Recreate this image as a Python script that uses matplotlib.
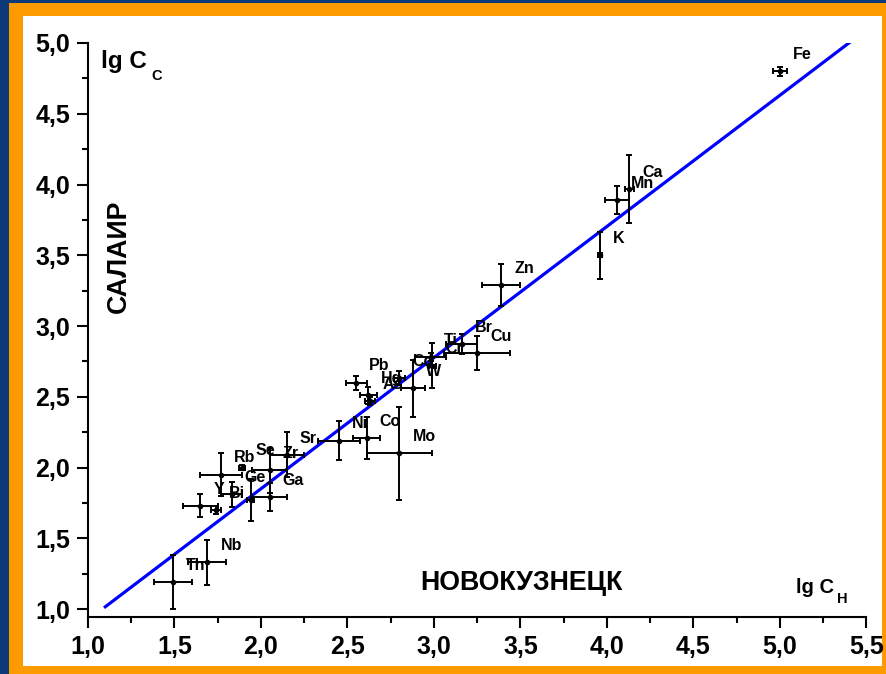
import matplotlib
matplotlib.use("Agg")
import matplotlib.pyplot as plt
from matplotlib.patches import Rectangle
from matplotlib.ticker import MultipleLocator, FuncFormatter

plt.rcParams["font.family"] = ["Liberation Sans", "DejaVu Sans"]
plt.rcParams["font.weight"] = "bold"

# lg concentration: Novokuznetsk (x) vs Salair (y), with measurement spread
elements = ["Fe", "Ca", "Mn", "K", "Zn", "Cu", "Br", "Ti", "Cr", "Cd",
            "W", "Pb", "Hg", "As", "Ni", "Co", "Mo", "Sr", "Se", "Zr",
            "Rb", "Ge", "Ga", "Y", "Bi", "Nb", "Th", ""]
lg_cn = [5.00, 4.13, 4.06, 3.96, 3.39, 3.25, 3.16, 2.98, 2.99, 2.80,
         2.88, 2.55, 2.62, 2.63, 2.45, 2.61, 2.80, 2.15, 1.89, 2.05,
         1.77, 1.83, 2.05, 1.65, 1.74, 1.69, 1.49, 1.94]
lg_cs = [4.80, 3.97, 3.89, 3.50, 3.29, 2.81, 2.87, 2.78, 2.72, 2.63,
         2.56, 2.60, 2.51, 2.47, 2.19, 2.21, 2.10, 2.09, 2.00, 1.98,
         1.95, 1.81, 1.79, 1.73, 1.70, 1.33, 1.19, 1.77]
err_cn = [0.04, 0.025, 0.07, 0.012, 0.11, 0.19, 0.09, 0.09, 0.02, 0.03,
          0.07, 0.06, 0.05, 0.03, 0.12, 0.08, 0.19, 0.10, 0.02, 0.10,
          0.12, 0.06, 0.10, 0.10, 0.03, 0.11, 0.11, 0.02]
err_cs = [0.03, 0.24, 0.10, 0.165, 0.15, 0.12, 0.07, 0.03, 0.16, 0.05,
          0.20, 0.05, 0.06, 0.03, 0.14, 0.15, 0.33, 0.16, 0.02, 0.16,
          0.15, 0.09, 0.10, 0.08, 0.03, 0.16, 0.19, 0.15]

# linear fit drawn across the data
fit_slope = 0.927
fit_icpt = -0.004
fit_x = [1.10, 5.40]

W, H = 887, 674
fig = plt.figure(figsize=(W / 100, H / 100), dpi=100)
fig.patch.set_facecolor("#0c3a78")
fig.add_artist(Rectangle((9 / W, 0), 1, 671 / H, transform=fig.transFigure,
                         facecolor="#fd9a00", edgecolor="none", zorder=-3))
fig.add_artist(Rectangle((23 / W, 8 / H), 859 / W, 650 / H,
                         transform=fig.transFigure, facecolor="white",
                         edgecolor="none", zorder=-2))

ax = fig.add_axes([88 / W, 57 / H, 778.5 / W, 574 / H])
ax.set_facecolor("white")
ax.set_xlim(1.0, 5.5)
ax.set_ylim(0.9435, 5.0)

ax.plot(fit_x, [fit_slope * v + fit_icpt for v in fit_x], color="#0000ff",
        lw=2.3, zorder=3)
ax.errorbar(lg_cn, lg_cs, xerr=err_cn, yerr=err_cs, fmt="o", ms=3,
            color="black", ecolor="black", elinewidth=1.4, capsize=2.3,
            capthick=1.4, zorder=4)

for name, xv, yv in zip(elements, lg_cn, lg_cs):
    if name:
        ax.annotate(name, (xv, yv), xytext=(9.4, 12), textcoords="offset points",
                    fontsize=11.5, fontweight="bold", ha="left", va="center",
                    zorder=5)

for side in ("top", "right"):
    ax.spines[side].set_visible(False)
for side in ("left", "bottom"):
    ax.spines[side].set_linewidth(1.5)

comma = FuncFormatter(lambda v, pos: f"{v:.1f}".replace(".", ","))
ax.xaxis.set_major_locator(MultipleLocator(0.5))
ax.xaxis.set_minor_locator(MultipleLocator(0.25))
ax.yaxis.set_major_locator(MultipleLocator(0.5))
ax.yaxis.set_minor_locator(MultipleLocator(0.25))
ax.xaxis.set_major_formatter(comma)
ax.yaxis.set_major_formatter(comma)
ax.tick_params(which="major", length=8, width=1.5, labelsize=18, pad=5)
ax.tick_params(which="minor", length=4, width=1.5)
for lab in ax.get_xticklabels() + ax.get_yticklabels():
    lab.set_fontweight("bold")

# axis captions placed inside the frame
fig.text(101 / W, 1 - 68 / H, "lg C", fontsize=17.5, fontweight="bold",
         ha="left", va="baseline")
fig.text(151 / W, 1 - 80 / H, "C", fontsize=10.5, fontweight="bold",
         ha="left", va="baseline")
fig.text(796 / W, 1 - 593 / H, "lg C", fontsize=14.5, fontweight="bold",
         ha="left", va="baseline")
fig.text(837 / W, 1 - 603 / H, "Н", fontsize=10.5, fontweight="bold",
         ha="left", va="baseline")
fig.text(521 / W, 1 - 583 / H, "НОВОКУЗНЕЦК", fontsize=19.3, fontweight="bold",
         ha="center", va="center")
fig.text(119 / W, 1 - 256 / H, "САЛАИР", fontsize=19.3, fontweight="bold",
         ha="center", va="center", rotation=90)

fig.savefig("out.png", dpi=100, facecolor=fig.get_facecolor())
